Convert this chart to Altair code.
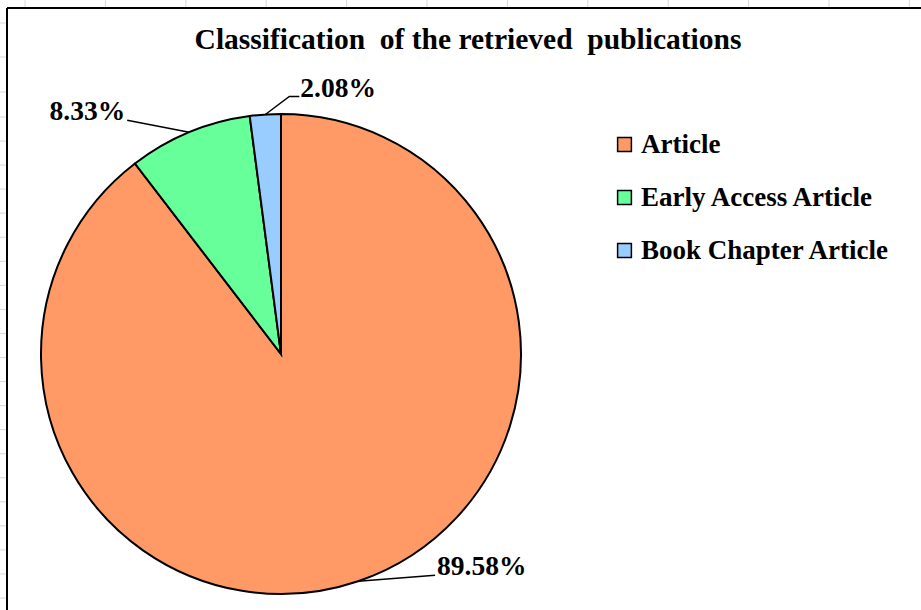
import math

import altair as alt
import pandas as pd

# Publication types and their shares (%)
categories = ["Article", "Early Access Article", "Book Chapter Article"]
shares = [89.58, 8.33, 2.08]
colors = ["#FF9966", "#66FF99", "#99CCFF"]

W, H = 921, 610
CX, CY, R = 281, 354, 240          # pie centre and radius in pixels
SERIF = "Liberation Serif"

# leader-line path for each label, as offsets from the slice's rim midpoint
leader_offsets = [
    [(77, -6)],                     # Article
    [(-62, -12)],                   # Early Access Article
    [(24, -18), (34, -18)],         # Book Chapter Article
]
label_align = ["left", "right", "left"]
label_gap = [2, -2, 1]

pie_df = pd.DataFrame({
    "category": categories,
    "share": shares,
    "order": list(range(len(categories))),
})

# rim midpoints derived from cumulative shares (clockwise from 12 o'clock)
total = sum(shares)
line_rows, text_rows = [], []
cum = 0.0
for i, (cat, val) in enumerate(zip(categories, shares)):
    mid = (cum + val / 2) / total * 2 * math.pi
    cum += val
    rx = CX + R * math.sin(mid)
    ry = CY - R * math.cos(mid)
    pts = [(rx, ry)] + [(rx + dx, ry + dy) for dx, dy in leader_offsets[i]]
    for j, (px, py) in enumerate(pts):
        line_rows.append({"category": cat, "seq": j, "px": px, "py": py})
    ex, ey = pts[-1]
    text_rows.append({
        "category": cat,
        "label": f"{val:.2f}%",
        "tx": ex + label_gap[i],
        "ty": ey - 8,
        "align": label_align[i],
    })

lines_df = pd.DataFrame(line_rows)
text_df = pd.DataFrame(text_rows)

xs = alt.Scale(domain=[0, W], range=[0, W], nice=False, zero=False)
ys = alt.Scale(domain=[0, H], range=[0, H], nice=False, zero=False)

pie = alt.Chart(pie_df).mark_arc(
    outerRadius=R, stroke="black", strokeWidth=2
).encode(
    theta=alt.Theta("share:Q", stack=True),
    color=alt.Color(
        "category:N",
        sort=categories,
        scale=alt.Scale(domain=categories, range=colors),
        legend=alt.Legend(
            title=None,
            orient="none",
            legendX=611,
            legendY=131,
            symbolType="square",
            symbolSize=190,
            symbolStrokeColor="black",
            symbolStrokeWidth=1.5,
            symbolOpacity=1,
            labelFont=SERIF,
            labelFontWeight="bold",
            labelFontSize=27,
            labelColor="black",
            labelOffset=3,
            rowPadding=25,
            labelLimit=400,
        ),
    ),
    order=alt.Order("order:Q"),
    x=alt.value(CX),
    y=alt.value(CY),
)

leaders = alt.Chart(lines_df).mark_line(color="black", strokeWidth=1.5).encode(
    x=alt.X("px:Q", scale=xs, axis=None),
    y=alt.Y("py:Q", scale=ys, axis=None),
    detail="category:N",
    order="seq:Q",
)

def label_layer(align):
    return alt.Chart(text_df).transform_filter(
        alt.datum.align == align
    ).mark_text(
        align=align, baseline="middle", font=SERIF, fontWeight="bold",
        fontSize=27.5, color="black",
    ).encode(
        x=alt.X("tx:Q", scale=xs, axis=None),
        y=alt.Y("ty:Q", scale=ys, axis=None),
        text="label:N",
    )

title_df = pd.DataFrame({"t": ["Classification\u00a0 of the retrieved\u00a0 publications"]})
title = alt.Chart(title_df).mark_text(
    align="center", baseline="middle", font=SERIF, fontWeight="bold",
    fontSize=29.5, color="black",
).encode(x=alt.value(468), y=alt.value(40), text="t:N")

# faint spreadsheet gridline stubs peeking out around the frame
col_df = pd.DataFrame({"gx": [25 + 80.4 * k for k in range(12)]})
row_df = pd.DataFrame({"gy": [23, 57, 92] + [117 + 24.05 * k for k in range(21)]})
col_ticks = alt.Chart(col_df).mark_rule(color="#d8d8d8", strokeWidth=1).encode(
    x=alt.X("gx:Q", scale=xs, axis=None), y=alt.value(0), y2=alt.value(7)
)
row_ticks = alt.Chart(row_df).mark_rule(color="#d8d8d8", strokeWidth=1).encode(
    y=alt.Y("gy:Q", scale=ys, axis=None), x=alt.value(0), x2=alt.value(6)
)

frame_df = pd.DataFrame({"k": [0]})
frame_left = alt.Chart(frame_df).mark_rule(color="black", strokeWidth=2).encode(
    x=alt.value(7), y=alt.value(8), y2=alt.value(H)
)
frame_top = alt.Chart(frame_df).mark_rule(color="black", strokeWidth=2).encode(
    x=alt.value(7), x2=alt.value(W), y=alt.value(8)
)

chart = alt.layer(
    col_ticks, row_ticks, frame_left, frame_top,
    pie, leaders, label_layer("left"), label_layer("right"), title,
).properties(
    width=W, height=H, padding=0, autosize=alt.AutoSizeParams(type="none"),
    background="white",
).configure_view(stroke=None)

chart.save("out.html", embed_options={"renderer": "svg", "actions": False})
